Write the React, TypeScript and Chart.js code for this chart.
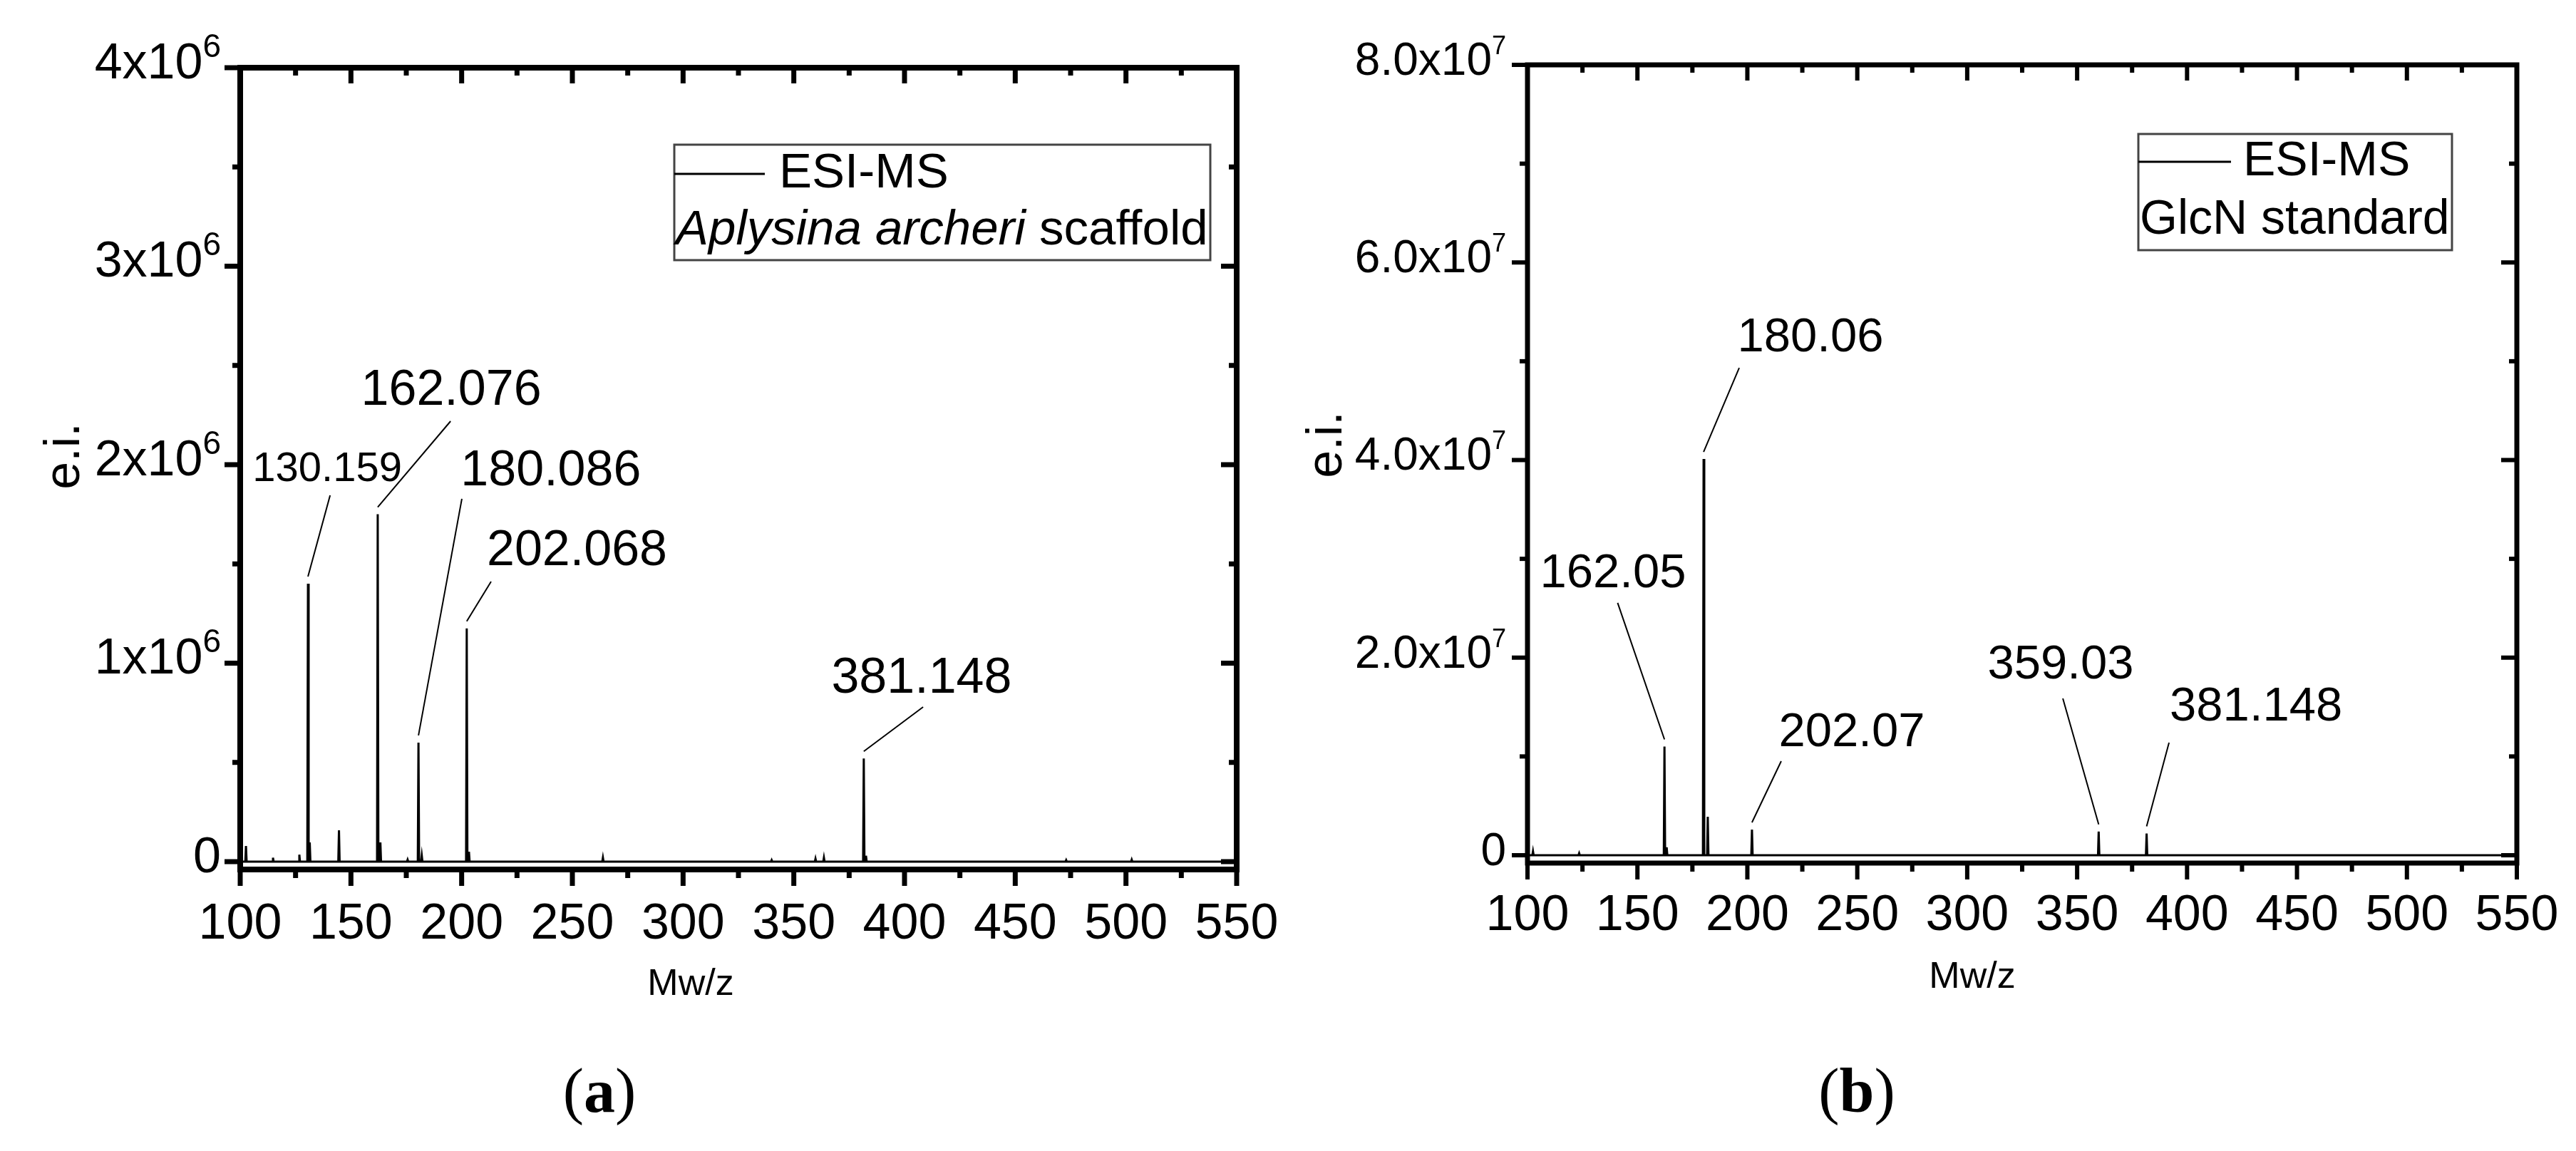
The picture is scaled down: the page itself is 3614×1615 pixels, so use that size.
import React, { useEffect, useRef } from "react";
import { Chart, registerables } from "chart.js";
Chart.register(...registerables);

// ---------------- shared axis data ----------------
const X_MIN = 100;
const X_MAX = 550;
const X_MAJOR_TICKS = [100, 150, 200, 250, 300, 350, 400, 450, 500, 550];
const X_MINOR_TICKS = [125, 175, 225, 275, 325, 375, 425, 475, 525];
const X_TITLE = "Mw/z";
const Y_TITLE = "e.i.";
const LEGEND_SERIES = "ESI-MS";

// ---------------- panel (a): Aplysina archeri scaffold ----------------
const A_MZ = [102.6, 114.8, 126.7, 130.6, 131.4, 144.6, 162.1, 163.3, 175.6, 180.5, 182.0, 202.3, 203.3, 263.8, 340.0, 359.8, 363.6, 381.6, 382.6, 473.0, 502.6];
const A_INTENSITY = [0.079e6, 0.02e6, 0.035e6, 1.4e6, 0.097e6, 0.158e6, 1.75e6, 0.097e6, 0.01e6, 0.6e6, 0.03e6, 1.175e6, 0.05e6, 0.02e6, 0.008e6, 0.015e6, 0.02e6, 0.52e6, 0.03e6, 0.008e6, 0.01e6];
const A_Y_MIN = -0.0395e6;
const A_Y_MAX = 4e6;
const A_Y_MAJOR = [0, 1e6, 2e6, 3e6, 4e6];
const A_Y_MINOR = [0.5e6, 1.5e6, 2.5e6, 3.5e6];
const A_Y_LABELS = ["0", "1x10", "2x10", "3x10", "4x10"];
const A_Y_EXP = ["", "6", "6", "6", "6"];
const A_PEAK_LABELS = ["130.159", "162.076", "180.086", "202.068", "381.148"];
const A_PEAK_LABEL_MZ = [130.6, 162.1, 180.5, 202.3, 381.6];
const A_LEGEND_ITALIC = "Aplysina archeri";
const A_LEGEND_REST = " scaffold";
const A_CAPTION = "a";

// ---------------- panel (b): GlcN standard ----------------
const B_MZ = [102.5, 123.5, 162.3, 163.3, 180.1, 182.0, 202.1, 359.8, 381.6];
const B_INTENSITY = [0.04e7, 0.02e7, 1.1e7, 0.08e7, 4.01e7, 0.39e7, 0.26e7, 0.24e7, 0.22e7];
const B_Y_MIN = -0.0794e7;
const B_Y_MAX = 8e7;
const B_Y_MAJOR = [0, 2e7, 4e7, 6e7, 8e7];
const B_Y_MINOR = [1e7, 3e7, 5e7, 7e7];
const B_Y_LABELS = ["0", "2.0x10", "4.0x10", "6.0x10", "8.0x10"];
const B_Y_EXP = ["", "7", "7", "7", "7"];
const B_PEAK_LABELS = ["162.05", "180.06", "202.07", "359.03", "381.148"];
const B_PEAK_LABEL_MZ = [162.3, 180.1, 202.1, 359.8, 381.6];
const B_LEGEND_ITALIC = "";
const B_LEGEND_REST = "GlcN standard";
const B_CAPTION = "b";

// ---------------- layout / style (positions, not data) ----------------
const CANVAS_W = 1807;
const CANVAS_H = 1615;
const FONT = (size: number, style = "") =>
  `${style}${size}px "Liberation Sans", Arial, Helvetica, sans-serif`;
const SERIF = (size: number, style = "") =>
  `${style}${size}px "Liberation Serif", "Times New Roman", serif`;

const LAYOUT_A = {
  left: 0,
  padding: { left: 337, right: 72, top: 95, bottom: 395 },
  axisWidth: 8,
  tickWidth: 7,
  tickFont: 70,
  yTickFont: 70,
  supFont: 46,
  supRaise: 30,
  yLabelGap: 27,
  yLabelDy: 15,
  xLabelDy: 97,
  yTitle: { x: 92, y: 640, size: 70 },
  xTitle: { x: 969, y: 1382, size: 52 },
  caption: { x: 841, y: 1560, size: 88 },
  legend: { x: 946, y: 203, w: 752, h: 162, lineEnd: 1073, row1: 244, textX: 1093, row2: 324, text2X: 948, size: 69 },
  annot: [
    { tx: 139.3, ty: 1.975e6, ex: 140.6, ey: 1.846e6, size: 58 },
    { tx: 195.3, ty: 2.37e6, ex: 195.0, ey: 2.219e6, size: 70 },
    { tx: 240.3, ty: 1.964e6, ex: 200.1, ey: 1.828e6, size: 70 },
    { tx: 252.1, ty: 1.562e6, ex: 213.3, ey: 1.411e6, size: 70 },
    { tx: 407.7, ty: 0.919e6, ex: 408.4, ey: 0.779e6, size: 70 },
  ],
};

const LAYOUT_B = {
  left: 1807,
  padding: { left: 336, right: 83, top: 91, bottom: 404 },
  axisWidth: 7,
  tickWidth: 6,
  tickFont: 70,
  yTickFont: 64,
  supFont: 36,
  supRaise: 29,
  yLabelGap: 30,
  yLabelDy: 14,
  xLabelDy: 94,
  yTitle: { x: 56, y: 624, size: 70 },
  xTitle: { x: 960, y: 1372, size: 52 },
  caption: { x: 798, y: 1560, size: 88 },
  legend: { x: 1193, y: 188, w: 440, h: 163, lineEnd: 1323, row1: 227, textX: 1340, row2: 309, text2X: 1195, size: 68 },
  annot: [
    { tx: 138.9, ty: 2.849e7, ex: 141.0, ey: 2.554e7, size: 67 },
    { tx: 228.7, ty: 5.23e7, ex: 196.3, ey: 4.934e7, size: 67 },
    { tx: 247.5, ty: 1.234e7, ex: 215.4, ey: 0.952e7, size: 67 },
    { tx: 342.5, ty: 1.919e7, ex: 343.5, ey: 1.587e7, size: 67 },
    { tx: 431.4, ty: 1.493e7, ex: 391.8, ey: 1.14e7, size: 67 },
  ],
};

const PANEL_A = {
  mz: A_MZ, intensity: A_INTENSITY, yMin: A_Y_MIN, yMax: A_Y_MAX,
  yMajor: A_Y_MAJOR, yMinor: A_Y_MINOR, yLabels: A_Y_LABELS, yExp: A_Y_EXP,
  peakLabels: A_PEAK_LABELS, peakLabelMz: A_PEAK_LABEL_MZ,
  legendItalic: A_LEGEND_ITALIC, legendRest: A_LEGEND_REST, caption: A_CAPTION,
  layout: LAYOUT_A,
};
const PANEL_B = {
  mz: B_MZ, intensity: B_INTENSITY, yMin: B_Y_MIN, yMax: B_Y_MAX,
  yMajor: B_Y_MAJOR, yMinor: B_Y_MINOR, yLabels: B_Y_LABELS, yExp: B_Y_EXP,
  peakLabels: B_PEAK_LABELS, peakLabelMz: B_PEAK_LABEL_MZ,
  legendItalic: B_LEGEND_ITALIC, legendRest: B_LEGEND_REST, caption: B_CAPTION,
  layout: LAYOUT_B,
};

// stick spectrum: each peak is a narrow spike rising from the zero baseline
function stickSpectrum(mz: number[], inten: number[]) {
  const pts: { x: number; y: number }[] = [{ x: X_MIN, y: 0 }];
  mz.forEach((m, i) => {
    pts.push({ x: m - 0.3, y: 0 }, { x: m, y: inten[i] }, { x: m + 0.3, y: 0 });
  });
  pts.push({ x: X_MAX, y: 0 });
  return pts;
}

function drawDecor(chart: any, cfg: any) {
  const { ctx, chartArea: ca } = chart;
  const xs = chart.scales.x;
  const ys = chart.scales.y;
  const L = cfg.layout;
  ctx.save();
  ctx.strokeStyle = "#000";
  ctx.fillStyle = "#000";
  ctx.lineCap = "butt";
  const line = (x1: number, y1: number, x2: number, y2: number) => {
    ctx.beginPath();
    ctx.moveTo(x1, y1);
    ctx.lineTo(x2, y2);
    ctx.stroke();
  };

  // ticks (Origin style: outward on bottom/left, mirrored inward on top/right)
  ctx.lineWidth = L.tickWidth;
  X_MAJOR_TICKS.forEach((v) => {
    const px = xs.getPixelForValue(v);
    line(px, ca.bottom, px, ca.bottom + 23);
    line(px, ca.top, px, ca.top + 22);
  });
  X_MINOR_TICKS.forEach((v) => {
    const px = xs.getPixelForValue(v);
    line(px, ca.bottom, px, ca.bottom + 12);
    line(px, ca.top, px, ca.top + 11);
  });
  cfg.yMajor.forEach((v: number) => {
    const py = ys.getPixelForValue(v);
    line(ca.left - 22, py, ca.left, py);
    line(ca.right, py, ca.right - 22, py);
  });
  cfg.yMinor.forEach((v: number) => {
    const py = ys.getPixelForValue(v);
    line(ca.left - 11, py, ca.left, py);
    line(ca.right, py, ca.right - 11, py);
  });

  // frame
  ctx.lineWidth = L.axisWidth;
  ctx.lineJoin = "miter";
  ctx.strokeRect(ca.left, ca.top, ca.right - ca.left, ca.bottom - ca.top);

  // x tick labels
  ctx.font = FONT(L.tickFont);
  ctx.textAlign = "center";
  ctx.textBaseline = "alphabetic";
  X_MAJOR_TICKS.forEach((v) => {
    ctx.fillText(String(v), xs.getPixelForValue(v), ca.bottom + L.xLabelDy);
  });

  // y tick labels with superscript exponents
  cfg.yMajor.forEach((v: number, i: number) => {
    const py = ys.getPixelForValue(v) + L.yLabelDy;
    const right = ca.left - L.yLabelGap;
    const exp = cfg.yExp[i];
    ctx.font = FONT(L.supFont);
    const ew = exp ? ctx.measureText(exp).width : 0;
    ctx.font = FONT(L.yTickFont);
    ctx.textAlign = "right";
    ctx.fillText(cfg.yLabels[i], right - ew, py);
    if (exp) {
      ctx.font = FONT(L.supFont);
      ctx.textAlign = "left";
      ctx.fillText(exp, right - ew, py - L.supRaise);
    }
  });

  // axis titles
  ctx.font = FONT(L.xTitle.size);
  ctx.textAlign = "center";
  ctx.textBaseline = "middle";
  ctx.fillText(X_TITLE, L.xTitle.x, L.xTitle.y);
  ctx.save();
  ctx.translate(L.yTitle.x, L.yTitle.y);
  ctx.rotate(-Math.PI / 2);
  ctx.font = FONT(L.yTitle.size);
  ctx.fillText(Y_TITLE, 0, 0);
  ctx.restore();

  // peak annotations with leader lines
  cfg.peakLabels.forEach((txt: string, i: number) => {
    const m = cfg.peakLabelMz[i];
    const k = cfg.mz.indexOf(m);
    const h = cfg.intensity[k];
    const a = L.annot[i];
    const px = xs.getPixelForValue(m);
    const py = ys.getPixelForValue(h) - 10;
    ctx.lineWidth = 2;
    line(px, py, xs.getPixelForValue(a.ex), ys.getPixelForValue(a.ey));
    ctx.font = FONT(a.size);
    ctx.textAlign = "center";
    ctx.textBaseline = "middle";
    ctx.fillText(txt, xs.getPixelForValue(a.tx), ys.getPixelForValue(a.ty));
  });

  // legend
  const lg = L.legend;
  ctx.lineWidth = 3;
  ctx.strokeStyle = "#444";
  ctx.strokeRect(lg.x, lg.y, lg.w, lg.h);
  ctx.strokeStyle = "#000";
  ctx.lineWidth = 3;
  line(lg.x, lg.row1, lg.lineEnd, lg.row1);
  ctx.textAlign = "left";
  ctx.textBaseline = "middle";
  ctx.font = FONT(lg.size);
  ctx.fillText(LEGEND_SERIES, lg.textX, lg.row1);
  let tx = lg.text2X;
  if (cfg.legendItalic) {
    ctx.font = FONT(lg.size, "italic ");
    ctx.fillText(cfg.legendItalic, tx, lg.row2);
    tx += ctx.measureText(cfg.legendItalic).width;
  }
  ctx.font = FONT(lg.size);
  ctx.fillText(cfg.legendRest, tx, lg.row2);

  // caption "(a)" / "(b)" with bold letter
  const cp = L.caption;
  ctx.textBaseline = "alphabetic";
  ctx.textAlign = "left";
  ctx.font = SERIF(cp.size);
  const wp = ctx.measureText("(").width;
  const wq = ctx.measureText(")").width;
  ctx.font = SERIF(cp.size, "bold ");
  const wl = ctx.measureText(cfg.caption).width;
  let cx = cp.x - (wp + wl + wq) / 2;
  ctx.font = SERIF(cp.size);
  ctx.fillText("(", cx, cp.y);
  cx += wp;
  ctx.font = SERIF(cp.size, "bold ");
  ctx.fillText(cfg.caption, cx, cp.y);
  cx += wl;
  ctx.font = SERIF(cp.size);
  ctx.fillText(")", cx, cp.y);

  ctx.restore();
}

function Panel({ cfg }: { cfg: any }) {
  const ref = useRef<HTMLCanvasElement | null>(null);
  useEffect(() => {
    if (!ref.current) return;
    const chart = new Chart(ref.current, {
      type: "line",
      data: {
        datasets: [
          {
            data: stickSpectrum(cfg.mz, cfg.intensity),
            borderColor: "#000",
            borderWidth: 3,
            pointRadius: 0,
            tension: 0,
            fill: false,
          } as any,
        ],
      },
      options: {
        animation: false,
        responsive: false,
        maintainAspectRatio: false,
        devicePixelRatio: 1,
        events: [],
        layout: { padding: cfg.layout.padding },
        plugins: { legend: { display: false }, tooltip: { enabled: false } },
        scales: {
          x: { type: "linear", min: X_MIN, max: X_MAX, display: false },
          y: { type: "linear", min: cfg.yMin, max: cfg.yMax, display: false },
        },
      } as any,
      plugins: [{ id: "originDecor", afterDraw: (c: any) => drawDecor(c, cfg) }],
    });
    return () => chart.destroy();
  }, [cfg]);
  return (
    <canvas
      ref={ref}
      width={CANVAS_W}
      height={CANVAS_H}
      style={{ position: "absolute", left: cfg.layout.left, top: 0, width: CANVAS_W, height: CANVAS_H }}
    />
  );
}

export default function App() {
  return (
    <div style={{ position: "absolute", left: 0, top: 0, width: 3614, height: 1615, background: "#fff", overflow: "hidden" }}>
      <Panel cfg={PANEL_A} />
      <Panel cfg={PANEL_B} />
    </div>
  );
}
